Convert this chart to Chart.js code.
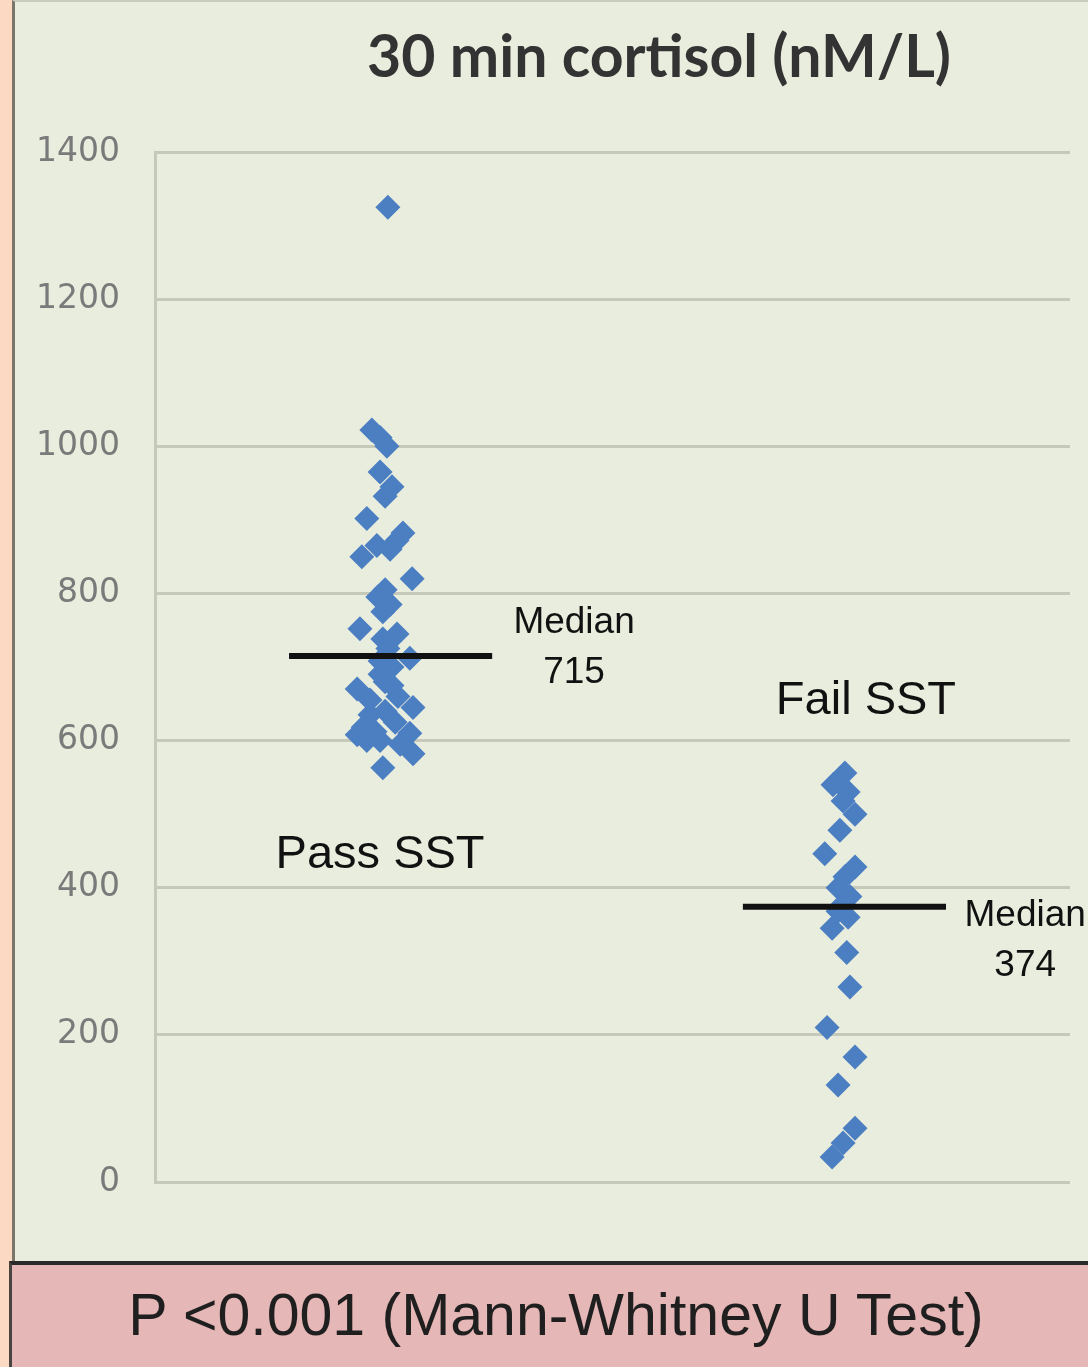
<!DOCTYPE html>
<html>
<head>
<meta charset="utf-8">
<script src="https://cdn.jsdelivr.net/npm/chart.js@4/dist/chart.umd.min.js"></script>
<style>
  body { margin: 0; background: #fbd9c2; width: 1088px; height: 1367px; overflow: hidden; position: relative; }
  #frame { position: absolute; left: 12px; top: 0; width: 1076px; height: 1262px; box-sizing: border-box;
           border-left: 3px solid #7b756a; border-top: 2px solid #c9ccbd; background: #e9eddd; }
  #frame canvas { display: block; }
  #stats { position: absolute; left: 9px; top: 1261px; width: 1079px; height: 106px; box-sizing: border-box;
           border-left: 3px solid #4a4440; border-top: 4px solid #2b2b2b; background: #e5b7b6;
           font-family: "Liberation Sans", Arial, sans-serif; font-size: 59px; color: #1f1f1f;
           text-align: center; line-height: 100px; padding-left: 12px; }
</style>
</head>
<body>
<div id="frame"><canvas id="grafico" width="1073" height="1260"></canvas></div>
<div id="stats">P &lt;0.001 (Mann-Whitney U Test)</div>
<script>
// ------ 30 min cortisol, pass vs fail SST ------
const tituloGrafico = '30 min cortisol (nM/L)';
const yTicks = [0, 200, 400, 600, 800, 1000, 1200, 1400];

// x position = group centre (0.5 / 1.5) plus horizontal jitter
const passX = [0.509, 0.474, 0.492, 0.507, 0.492, 0.518, 0.503, 0.463, 0.542, 0.529,
               0.485, 0.514, 0.452, 0.562, 0.503, 0.487, 0.514, 0.498, 0.448, 0.529,
               0.498, 0.509, 0.557, 0.492, 0.518, 0.492, 0.442, 0.503, 0.531, 0.564,
               0.470, 0.503, 0.525, 0.455, 0.442, 0.481, 0.557, 0.492, 0.564, 0.498,
               0.518, 0.470, 0.536, 0.463];
const passValues = [1325, 1022, 1012, 1000, 965, 945, 932, 902, 882, 872,
                    865, 860, 850, 820, 805, 795, 785, 775, 752, 745,
                    738, 725, 712, 708, 700, 690, 670, 680, 660, 645,
                    635, 640, 625, 618, 608, 612, 610, 600, 582, 563,
                    675, 655, 595, 600];

const failX = [1.508, 1.482, 1.515, 1.504, 1.530, 1.497, 1.464, 1.530, 1.508, 1.493,
               1.519, 1.504, 1.493, 1.515, 1.480, 1.512, 1.519, 1.469, 1.530, 1.493,
               1.530, 1.504, 1.480];
const failValues = [556, 540, 530, 518, 500, 478, 446, 428, 415, 400,
                    388, 378, 368, 360, 345, 312, 265, 210, 170, 132,
                    73, 53, 34];

const medianas = [715, 374];
const medianaDesde = [0.293, 1.285];
const medianaHasta = [0.737, 1.729];

// group names and median captions (x in group units, y in nM/L)
const grupoNombres = ['Pass SST', 'Fail SST'];
const grupoX = [0.492, 1.554];
const grupoY = [444, 654];
const medianaTextoX = [0.916, 1.902];
const medianaTextoY = [760, 362];
const medianaValorY = [692, 294];

const azul = '#4b7fc2';

function puntos(xs, ys) {
  return xs.map(function (x, i) { return { x: x, y: ys[i] }; });
}

const etiquetas = {
  id: 'etiquetas',
  afterDatasetsDraw: function (chart) {
    const ctx = chart.ctx;
    const sx = chart.scales.x;
    const sy = chart.scales.y;
    ctx.save();
    ctx.textAlign = 'center';
    ctx.textBaseline = 'middle';
    // titulo
    ctx.fillStyle = '#333333';
    ctx.font = 'bold 59px Lato, "Open Sans", sans-serif';
    ctx.fillText(tituloGrafico, 644, 56);
    // Pass SST / Fail SST
    ctx.fillStyle = '#111111';
    ctx.font = '47px "Liberation Sans", Arial, sans-serif';
    for (let i = 0; i < grupoNombres.length; i++) {
      ctx.fillText(grupoNombres[i], sx.getPixelForValue(grupoX[i]), sy.getPixelForValue(grupoY[i]));
    }
    // Median captions
    ctx.font = '37px "Liberation Sans", Arial, sans-serif';
    for (let i = 0; i < medianas.length; i++) {
      const px = sx.getPixelForValue(medianaTextoX[i]);
      ctx.fillText('Median', px, sy.getPixelForValue(medianaTextoY[i]));
      ctx.fillText(String(medianas[i]), px, sy.getPixelForValue(medianaValorY[i]));
    }
    ctx.restore();
  }
};

const ctx = document.querySelector('#grafico');
const grafico = new Chart(ctx, {
  type: 'scatter',
  data: {
    datasets: [
      {
        label: 'Pass SST',
        data: puntos(passX, passValues),
        pointStyle: 'rectRot',
        pointRadius: 12.5,
        pointBorderWidth: 0,
        backgroundColor: azul,
        borderColor: azul,
        order: 2
      },
      {
        label: 'Fail SST',
        data: puntos(failX, failValues),
        pointStyle: 'rectRot',
        pointRadius: 12.5,
        pointBorderWidth: 0,
        backgroundColor: azul,
        borderColor: azul,
        order: 2
      },
      {
        type: 'line',
        label: 'Median pass',
        data: [{ x: medianaDesde[0], y: medianas[0] }, { x: medianaHasta[0], y: medianas[0] }],
        borderColor: '#111111',
        borderWidth: 6,
        pointRadius: 0,
        order: 1
      },
      {
        type: 'line',
        label: 'Median fail',
        data: [{ x: medianaDesde[1], y: medianas[1] }, { x: medianaHasta[1], y: medianas[1] }],
        borderColor: '#111111',
        borderWidth: 6,
        pointRadius: 0,
        order: 1
      }
    ]
  },
  options: {
    responsive: false,
    animation: false,
    layout: { padding: { top: 150, right: 18, bottom: 80, left: 0 } },
    plugins: {
      legend: { display: false },
      tooltip: { enabled: false },
      title: { display: false }
    },
    scales: {
      x: {
        type: 'linear',
        display: false,
        min: 0,
        max: 2
      },
      y: {
        min: 0,
        max: 1400,
        afterBuildTicks: function (scale) {
          scale.ticks = yTicks.map(function (v) { return { value: v }; });
        },
        afterFit: function (scale) { scale.width = 140; },
        grid: { color: '#c6c9b9', lineWidth: 3, drawTicks: false },
        border: { color: '#c6c9b9', width: 3 },
        ticks: {
          padding: 35,
          color: '#7a7a7a',
          font: { family: '"DejaVu Sans", Tahoma, sans-serif', size: 33 },
          callback: function (value) { return String(value); }
        }
      }
    }
  },
  plugins: [etiquetas]
});
</script>
</body>
</html>
